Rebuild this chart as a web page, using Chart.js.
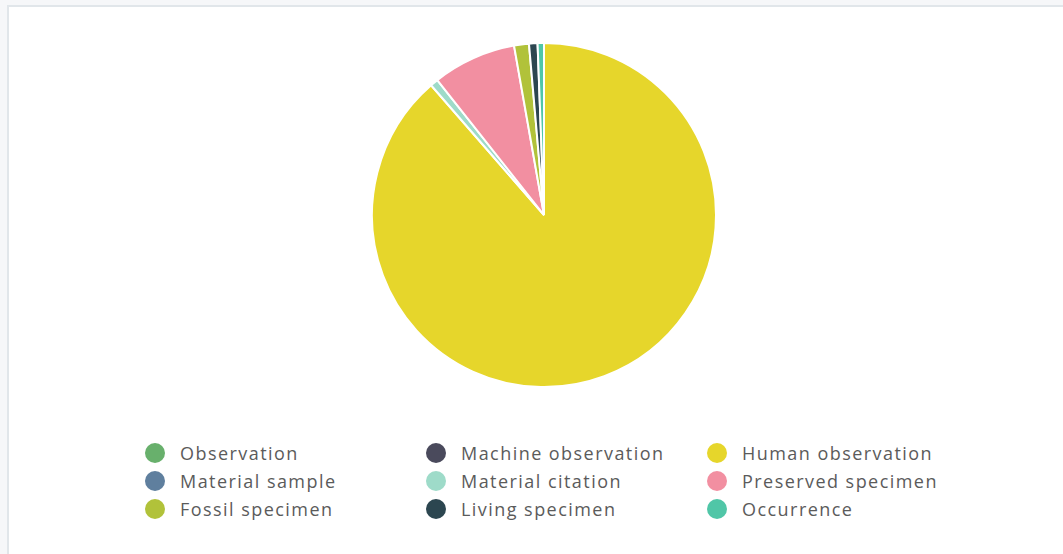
<!DOCTYPE html>
<html>
<head>
<meta charset="utf-8">
<script src="https://cdn.jsdelivr.net/npm/chart.js@4"></script>
<style>
  html, body { margin: 0; padding: 0; background: #f6f7f9; width: 1063px; height: 554px; overflow: hidden; }
  .card { position: absolute; left: 7px; top: 5px; width: 1100px; height: 600px; background: #fff; border: 2px solid #e1e6ea; box-sizing: border-box; }
  .pie { position: absolute; left: 371px; top: 42px; width: 346px; height: 346px; }
  .legend { position: absolute; left: 145px; top: 439px; display: grid; grid-template-columns: 281px 281px 281px; grid-auto-rows: 28px; font-family: "Open Sans", sans-serif; font-size: 18px; letter-spacing: 1.45px; color: #5b5b5b; }
  .legend div { display: flex; align-items: center; white-space: nowrap; }
  .legend span.dot { width: 20px; height: 20px; border-radius: 50%; margin-right: 15px; flex: none; }
</style>
</head>
<body>
<div class="card"></div>
<div class="pie"><canvas id="basisChart"></canvas></div>
<div class="legend" id="legend"></div>
<script>
const categories = [
  "Observation", "Machine observation", "Human observation",
  "Material sample", "Material citation", "Preserved specimen",
  "Fossil specimen", "Living specimen", "Occurrence"
];
const counts = [0, 0, 8900, 0, 75, 790, 140, 80, 60];
const colors = [
  "#68b06c", "#4a4a5c", "#e6d62b",
  "#5f7f9e", "#9edbc9", "#f28fa1",
  "#b1c23a", "#2c4650", "#50c6a7"
];

const ctx = document.getElementById("basisChart").getContext("2d");
const chart = new Chart(ctx, {
  type: "pie",
  data: {
    labels: categories,
    datasets: [
      {
        data: counts,
        backgroundColor: colors,
        borderColor: "#ffffff",
        borderWidth: 2,
      },
    ],
  },
  options: {
    responsive: true,
    maintainAspectRatio: false,
    animation: false,
    layout: { padding: 0 },
    plugins: {
      legend: { display: false },
      tooltip: { enabled: false },
    },
  },
});

// legend in three fixed columns, like the original page
const legendEl = document.getElementById("legend");
chart.data.labels.forEach((label, i) => {
  const item = document.createElement("div");
  const dot = document.createElement("span");
  dot.className = "dot";
  dot.style.background = chart.data.datasets[0].backgroundColor[i];
  item.appendChild(dot);
  item.appendChild(document.createTextNode(label));
  legendEl.appendChild(item);
});
</script>
</body>
</html>
